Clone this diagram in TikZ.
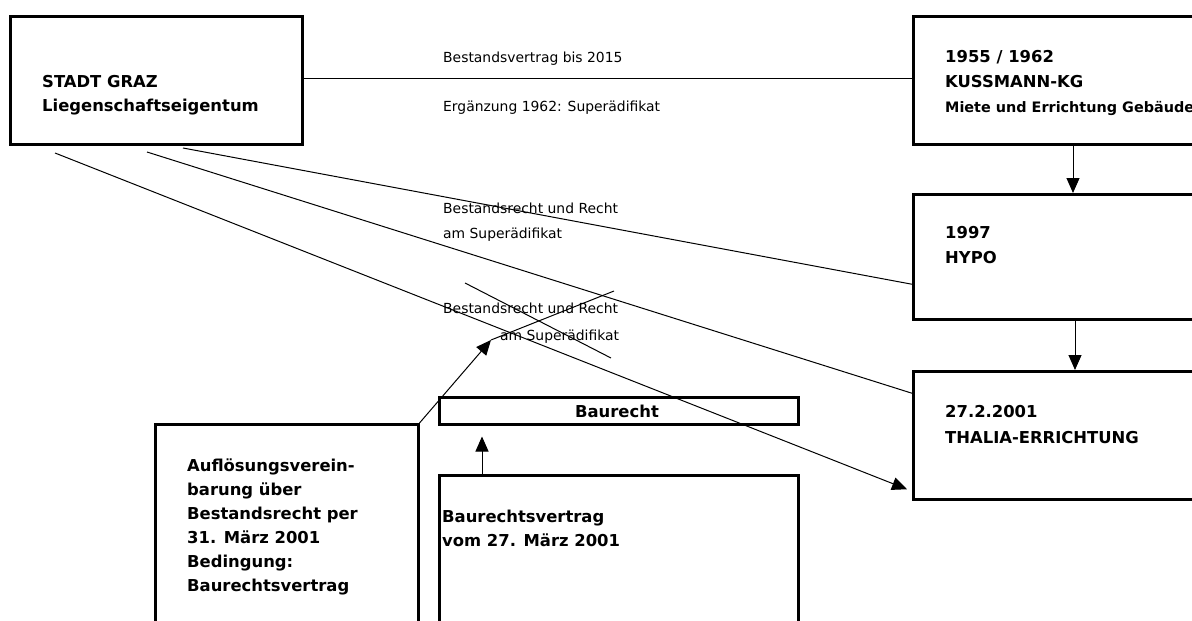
\documentclass[tikz,border=0pt]{standalone}
\usepackage{fontspec}
\setmainfont{DejaVu Sans}
\usetikzlibrary{arrows.meta,positioning,calc}

\tikzset{
  box/.style={draw, line width=2.5pt, inner sep=0pt, anchor=north west},
  boxtext/.style={font=\bfseries\fontsize{16.4}{18}\selectfont, anchor=base west, inner sep=0pt},
  lbl/.style={font=\fontsize{13.9}{16}\selectfont, anchor=base west, inner sep=0pt},
  conn/.style={line width=1pt},
  arr/.style={line width=1pt, -{Triangle[length=15pt,width=13pt]}}
}

\begin{document}
\begin{tikzpicture}[x=1pt,y=-1pt]
    \useasboundingbox (0,0) rectangle (1192,621);
    \clip (0,0) rectangle (1192,621);

    % boxes
    \node[box, minimum width=292pt, minimum height=128pt] (stadt) at (9,15) {};
    \node[box, minimum width=300pt, minimum height=128pt] (kuss) at (912,15) {};
    \node[box, minimum width=300pt, minimum height=125pt] (hypo) at (912,193) {};
    \node[box, minimum width=300pt, minimum height=128pt] (thalia) at (912,370) {};
    \node[box, minimum width=359pt, minimum height=27pt] (baurecht) at (438,396) {};
    \node[box, minimum width=359pt, minimum height=180pt] (vertrag) at (438,474) {};
    \node[box, minimum width=263pt, minimum height=230pt] (aufl) at (154,423) {};

    % box texts
    \node[boxtext] (stadtA) at (42,87) {STADT GRAZ};
    \node[boxtext] (stadtB) at (42,111) {Liegenschaftseigentum};
    \node[boxtext] (kussA) at (945,62) {1955 / 1962};
    \node[boxtext] (kussB) at (945,87) {KUSSMANN-KG};
    \node[boxtext, font=\bfseries\fontsize{14.4}{16}\selectfont] (kussC) at (945,112) {Miete und Errichtung Gebäude};
    \node[boxtext] (hypoA) at (945,238) {1997};
    \node[boxtext] (hypoB) at (945,263) {HYPO};
    \node[boxtext] (thaliaA) at (945,417) {27.2.2001};
    \node[boxtext] (thaliaB) at (945,443) {THALIA-ERRICHTUNG};
    \node[boxtext, anchor=base] (baurechtT) at (617,417) {Baurecht};
    \node[boxtext] (vertragA) at (442,522) {Baurechtsvertrag};
    \node[boxtext] (vertragB) at (442,546) {vom 27. März 2001};
    \node[boxtext, align=left, anchor=north west, font=\bfseries\fontsize{16.4}{24}\selectfont]
      (auflT) at (187,459) {Auflösungsverein-\\barung über\\Bestandsrecht per\\31. März 2001\\Bedingung:\\Baurechtsvertrag};

    % labels
    \node[lbl] (vertrLbl) at (443,62) {Bestandsvertrag bis 2015};
    \node[lbl] (ergLbl) at (443,111) {Ergänzung 1962: Superädifikat};
    \node[lbl] (rechtA) at (443,213) {Bestandsrecht und Recht};
    \node[lbl] (rechtB) at (443,238) {am Superädifikat};
    \node[lbl] (rechtC) at (443,313) {Bestandsrecht und Recht};
    \node[lbl] (rechtD) at (500,340) {am Superädifikat};

    % free ends
    \coordinate (s1) at (183,148);
    \coordinate (s2) at (147,152);
    \coordinate (s3) at (55,153);
    \coordinate (xa) at (465,283);
    \coordinate (xb) at (611,358);
    \coordinate (xc) at (614,291);
    \coordinate (tip) at (491,340);

    % connectors
    \draw[conn] ([yshift=2pt]stadt.east) -- ([yshift=2pt]kuss.west);
    \draw[arr] ([xshift=161pt]kuss.south west) -- ([xshift=161pt]hypo.north west);
    \draw[arr] ([xshift=163pt]hypo.south west) -- ([xshift=163pt]thalia.north west);
    \draw[conn] (s1) -- ([yshift=-27.5pt]hypo.west);
    \draw[conn] (s2) -- ([yshift=42pt]thalia.west);
    \draw[arr] (s3) -- ([xshift=-5pt,yshift=-54pt]thalia.west);
    \draw[arr] ([xshift=44pt]vertrag.north west) -- ([xshift=44pt,yshift=-11pt]baurecht.south west);

    % crossed-out right
    \draw[conn] (xa) -- (xb);
    \draw[conn] (xc) -- (tip);
    \draw[arr] (aufl.north east) -- (tip);
  \end{tikzpicture}
\end{document}
